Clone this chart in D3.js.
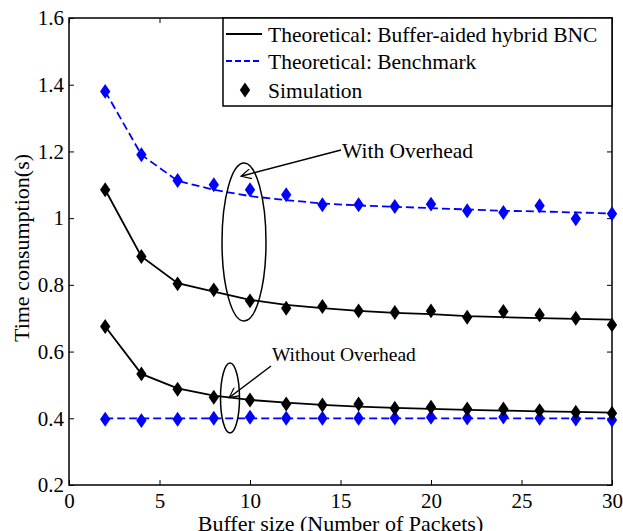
<!DOCTYPE html>
<html>
<head>
<meta charset="utf-8">
<script src="https://cdn.jsdelivr.net/npm/d3@7"></script>
<style>
body { margin: 0; background: #fff; }
text { font-family: "Liberation Serif", "Times New Roman", serif; fill: #000; }
</style>
</head>
<body>
<svg id="mainSvg" width="623" height="531"></svg>
<script>
// buffer sizes
var bufSize = [2, 4, 6, 8, 10, 12, 14, 16, 18, 20, 22, 24, 26, 28, 30];
// theoretical curves
var hybridWith = [1.085, 0.885, 0.805, 0.78, 0.755, 0.74, 0.73, 0.722, 0.716, 0.712, 0.706, 0.703, 0.70, 0.698, 0.696];
var benchWith = [1.38, 1.19, 1.112, 1.085, 1.066, 1.054, 1.044, 1.038, 1.034, 1.03, 1.026, 1.022, 1.02, 1.017, 1.014];
var hybridWithout = [0.675, 0.533, 0.49, 0.468, 0.455, 0.447, 0.44, 0.435, 0.431, 0.428, 0.425, 0.423, 0.421, 0.419, 0.417];
var benchWithout = [0.4, 0.4, 0.4, 0.4, 0.4, 0.4, 0.4, 0.4, 0.4, 0.4, 0.4, 0.4, 0.4, 0.4, 0.4];
// simulation points
var simHybridWith = [1.085, 0.885, 0.803, 0.785, 0.752, 0.73, 0.735, 0.722, 0.717, 0.722, 0.703, 0.72, 0.71, 0.70, 0.68];
var simBenchWith = [1.38, 1.19, 1.113, 1.10, 1.085, 1.07, 1.04, 1.04, 1.035, 1.042, 1.022, 1.017, 1.037, 0.998, 1.013];
var simHybridWithout = [0.675, 0.533, 0.487, 0.463, 0.455, 0.443, 0.44, 0.443, 0.43, 0.433, 0.428, 0.428, 0.423, 0.418, 0.415];
var simBenchWithout = [0.397, 0.393, 0.397, 0.4, 0.403, 0.4, 0.4, 0.4, 0.401, 0.403, 0.401, 0.404, 0.4, 0.398, 0.395];

var xTicks = [0, 5, 10, 15, 20, 25, 30];
var yTicks = [0.2, 0.4, 0.6, 0.8, 1, 1.2, 1.4, 1.6];
var legendLabels = ["Theoretical: Buffer-aided hybrid BNC", "Theoretical: Benchmark", "Simulation"];

var blue = "#0000ff";
var svg = d3.select("#mainSvg");
var pLeft = 69, pRight = 612, pTop = 18, pBottom = 485;

var x = d3.scaleLinear().domain([0, 30]).range([pLeft, pRight]);
var y = d3.scaleLinear().domain([0.2, 1.6]).range([pBottom, pTop]);

function fmt(d) { return String(+d.toFixed(1)); }

// axes with inward ticks, mirrored on top and right
svg.append("g").attr("transform", "translate(0," + pBottom + ")")
	.call(d3.axisBottom(x).tickValues(xTicks).tickSizeInner(-5).tickSizeOuter(0).tickPadding(8).tickFormat(fmt));
svg.append("g").attr("transform", "translate(0," + pTop + ")")
	.call(d3.axisTop(x).tickValues(xTicks).tickSizeInner(-5).tickSizeOuter(0).tickFormat(""));
svg.append("g").attr("transform", "translate(" + pLeft + ",0)")
	.call(d3.axisLeft(y).tickValues(yTicks).tickSizeInner(-5).tickSizeOuter(0).tickPadding(5).tickFormat(fmt));
svg.append("g").attr("transform", "translate(" + pRight + ",0)")
	.call(d3.axisRight(y).tickValues(yTicks).tickSizeInner(-5).tickSizeOuter(0).tickFormat(""));
svg.selectAll(".domain").remove();
svg.selectAll(".tick line").attr("stroke", "#000").attr("stroke-width", 1);
svg.selectAll(".tick text").style("font-size", "21px").style("font-family", "Liberation Serif, serif");
svg.append("rect").attr("x", pLeft).attr("y", pTop).attr("width", pRight - pLeft).attr("height", pBottom - pTop)
	.attr("fill", "none").attr("stroke", "#000").attr("stroke-width", 1.5);

// axis titles
svg.append("text").attr("x", (pLeft + pRight) / 2).attr("y", 531).attr("text-anchor", "middle")
	.style("font-size", "22px").text("Buffer size (Number of Packets)");
svg.append("text").attr("transform", "translate(29,248) rotate(-90)")
	.attr("text-anchor", "middle").style("font-size", "22px").text("Time consumption(s)");

var line = d3.line().x(function(d, i) { return x(bufSize[i]); }).y(function(d) { return y(d); });
var diamond = d3.symbol().type(d3.symbolDiamond).size(64);

function drawSeries(vals, sim, color, dashed)
{
	svg.append("path").datum(vals).attr("d", line).attr("fill", "none")
		.attr("stroke", color).attr("stroke-width", 1.8)
		.attr("stroke-dasharray", dashed ? "8,4" : null);
	svg.append("g").selectAll("path").data(sim).enter().append("path")
		.attr("d", diamond).attr("fill", color)
		.attr("transform", function(d, i) { return "translate(" + x(bufSize[i]) + "," + y(d) + ") scale(1.2,1)"; });
}
drawSeries(benchWith, simBenchWith, blue, true);
drawSeries(hybridWith, simHybridWith, "#000", false);
drawSeries(benchWithout, simBenchWithout, blue, true);
drawSeries(hybridWithout, simHybridWithout, "#000", false);

// annotations
svg.append("ellipse").attr("cx", 244).attr("cy", 242).attr("rx", 22).attr("ry", 79)
	.attr("fill", "none").attr("stroke", "#000").attr("stroke-width", 1.5);
svg.append("ellipse").attr("cx", 230).attr("cy", 398).attr("rx", 9.5).attr("ry", 35)
	.attr("fill", "none").attr("stroke", "#000").attr("stroke-width", 1.5);
svg.append("defs").append("marker").attr("id", "arr").attr("viewBox", "0 0 10 10")
	.attr("refX", 9).attr("refY", 5).attr("markerWidth", 14).attr("markerHeight", 10)
	.attr("markerUnits", "userSpaceOnUse").attr("orient", "auto")
	.append("path").attr("d", "M0,0 L10,5 L0,10").attr("fill", "none").attr("stroke", "#000").attr("stroke-width", 1.2);
svg.append("line").attr("x1", 341).attr("y1", 150).attr("x2", 242).attr("y2", 176)
	.attr("stroke", "#000").attr("stroke-width", 1.5).attr("marker-end", "url(#arr)");
svg.append("line").attr("x1", 271).attr("y1", 366).attr("x2", 230).attr("y2", 397)
	.attr("stroke", "#000").attr("stroke-width", 1.5).attr("marker-end", "url(#arr)");
svg.append("text").attr("x", 342).attr("y", 158).style("font-size", "21.5px").text("With Overhead");
svg.append("text").attr("x", 272).attr("y", 361).style("font-size", "19.5px").text("Without Overhead");

// legend
var lg = svg.append("g");
lg.append("rect").attr("x", 223).attr("y", pTop).attr("width", pRight - 223).attr("height", 88)
	.attr("fill", "#fff").attr("stroke", "#000").attr("stroke-width", 1.5);
var rowY = [34, 61, 90];
legendLabels.forEach(function(lbl, i) {
	if (i < 2)
		lg.append("line").attr("x1", 226).attr("x2", 262).attr("y1", rowY[i]).attr("y2", rowY[i])
			.attr("stroke", i == 0 ? "#000" : blue).attr("stroke-width", 1.8)
			.attr("stroke-dasharray", i == 1 ? "6,3" : null);
	else
		lg.append("path").attr("d", diamond).attr("fill", "#000")
			.attr("transform", "translate(245," + rowY[i] + ") scale(1.2,1)");
	lg.append("text").attr("x", 268).attr("y", rowY[i] + 8).style("font-size", "21.5px").text(lbl);
});
</script>
</body>
</html>
